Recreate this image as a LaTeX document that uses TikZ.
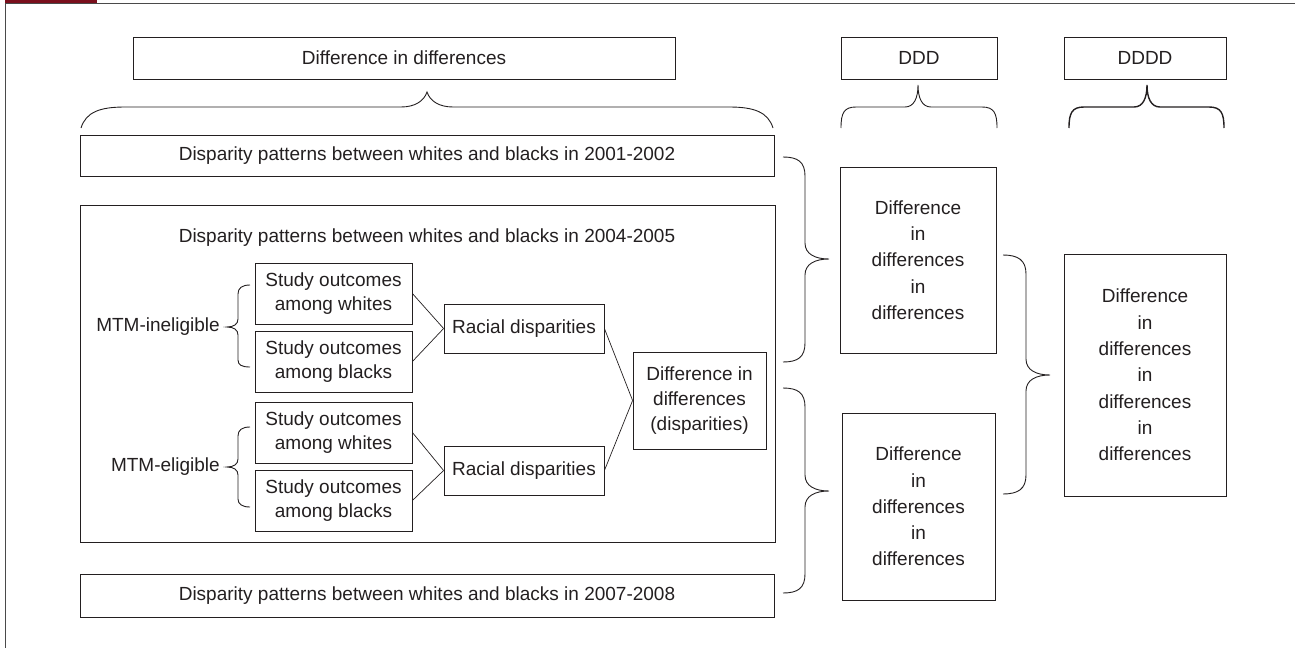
\documentclass[tikz,border=0pt]{standalone}
\usepackage{fontspec}
\setmainfont{Liberation Sans}
\definecolor{framered}{HTML}{7A0F1C}
\definecolor{ink}{HTML}{231F20}
\definecolor{framegray}{HTML}{4A4A4A}
\begin{document}
\begin{tikzpicture}[x=1pt,y=-1pt,
  font=\fontsize{19}{24}\selectfont,
  box/.style n args={2}{draw=ink, line width=0.8pt, inner sep=0pt, align=center, text=ink,
    minimum width=#1pt, minimum height=#2pt},
  lbl/.style={inner sep=0pt, text=ink, align=center},
  sp23/.style={font=\fontsize{19}{23.3}\selectfont},
  sp25/.style={font=\fontsize{19}{25}\selectfont},
  sp26/.style={font=\fontsize{19}{26.3}\selectfont},
  conn/.style={draw=ink, line width=0.7pt},
  brc/.style={draw=ink, line width=0.9pt},
  brcb/.style={draw=ink, line width=1.4pt}]
\useasboundingbox (0,0) rectangle (1295,648);
% frame
\fill[framered] (5,0) rectangle (97,3.2);
\draw[framegray, line width=1.4pt] (5,3.6) -- (1295,3.6);
\draw[framegray, line width=1.2pt] (5.6,3) -- (5.6,648);

% header boxes
\node[box={542}{42}] (hdd) at (404,58) {Difference in differences};
\node[box={156}{42}] (hddd) at (919,58) {DDD};
\node[box={162}{42}] (hdddd) at (1145,58) {DDDD};

% header braces
\draw[brc] (81,128) .. controls (86,112) and (100,107) .. (125,107) -- (401,107)
  .. controls (415,107) and (424,101) .. (427,92)
  .. controls (430,101) and (439,107) .. (453,107) -- (729,107)
  .. controls (754,107) and (768,112) .. (773,128);
\draw[brc] (841,128) .. controls (841,113) and (844,107) .. (856,107) -- (905,107)
  .. controls (914,107) and (918,98) .. (918,85)
  .. controls (918,98) and (922,107) .. (931,107) -- (982,107)
  .. controls (994,107) and (997,113) .. (997,128);
\draw[brcb] (1069,128) .. controls (1069,113) and (1072,107) .. (1084,107) -- (1134,107)
  .. controls (1143,107) and (1147,98) .. (1147,85)
  .. controls (1147,98) and (1151,107) .. (1160,107) -- (1209,107)
  .. controls (1221,107) and (1224,113) .. (1224,128);

% left column
\node[box={694}{41}] (r01) at (427,155.5) {Disparity patterns between whites and blacks in 2001-2002};
\node[box={695}{337}] (big) at (427.5,373.5) {};
\node[lbl] (t04) at (427,238) {Disparity patterns between whites and blacks in 2004-2005};
\node[box={694}{43}] (r07) at (427,595.5) {Disparity patterns between whites and blacks in 2007-2008};

\node[box={157}{61}, sp23] (sw1) at (333.5,293.5) {Study outcomes\\among whites};
\node[box={157}{61}, sp23] (sb1) at (333.5,361.5) {Study outcomes\\among blacks};
\node[box={157}{61}, sp23] (sw2) at (333.5,432.5) {Study outcomes\\among whites};
\node[box={157}{61}, sp23] (sb2) at (333.5,500.5) {Study outcomes\\among blacks};

\node[lbl, anchor=east] (mi) at (220,327) {MTM-ineligible};
\node[lbl, anchor=east] (me) at (220,467) {MTM-eligible};

\node[box={160}{49}] (rd1) at (524,328.5) {Racial disparities};
\node[box={160}{49}] (rd2) at (524,470.5) {Racial disparities};
\node[box={133}{97}, sp25] (dd) at (699.5,400.5) {Difference in\\differences\\(disparities)};

% small braces
\draw[brc] (250,285) .. controls (242,285) and (238,288) .. (238,294) -- (238,319)
  .. controls (238,324) and (234,327) .. (227,327)
  .. controls (234,327) and (238,330) .. (238,335) -- (238,360)
  .. controls (238,365) and (242,367) .. (250,367);
\draw[brc] (250,427) .. controls (242,427) and (238,430) .. (238,436) -- (238,459)
  .. controls (238,464) and (234,467) .. (227,467)
  .. controls (234,467) and (238,470) .. (238,475) -- (238,499)
  .. controls (238,504) and (242,507) .. (250,507);

% connectors
\draw[conn] (sw1.east) -- (rd1.west);
\draw[conn] (sb1.east) -- (rd1.west);
\draw[conn] (sw2.east) -- (rd2.west);
\draw[conn] (sb2.east) -- (rd2.west);
\draw[conn] (rd1.east) -- (dd.west);
\draw[conn] (rd2.east) -- (dd.west);

% DDD column
\node[box={156}{186}, sp26] (d1) at (918,260) {Difference\\in\\differences\\in\\differences};
\node[box={153}{187}, sp26] (d2) at (918.5,506.5) {Difference\\in\\differences\\in\\differences};
\node[box={162}{242}, sp26] (d4) at (1145,375) {Difference\\in\\differences\\in\\differences\\in\\differences};

% right braces
\draw[brc] (783,157) .. controls (798,157) and (805,162) .. (805,176) -- (805,243)
  .. controls (805,254) and (815,259) .. (829,259)
  .. controls (815,259) and (805,264) .. (805,275) -- (805,343)
  .. controls (805,357) and (798,362) .. (783,362);
\draw[brc] (783,388) .. controls (798,388) and (805,393) .. (805,407) -- (805,475)
  .. controls (805,486) and (815,491) .. (829,491)
  .. controls (815,491) and (805,496) .. (805,507) -- (805,574)
  .. controls (805,588) and (798,593) .. (783,593);
\draw[brc] (1003,255) .. controls (1018,255) and (1026,260) .. (1026,274) -- (1026,359)
  .. controls (1026,370) and (1036,375) .. (1050,375)
  .. controls (1036,375) and (1026,380) .. (1026,391) -- (1026,475)
  .. controls (1026,489) and (1018,494) .. (1003,494);
\end{tikzpicture}
\end{document}
